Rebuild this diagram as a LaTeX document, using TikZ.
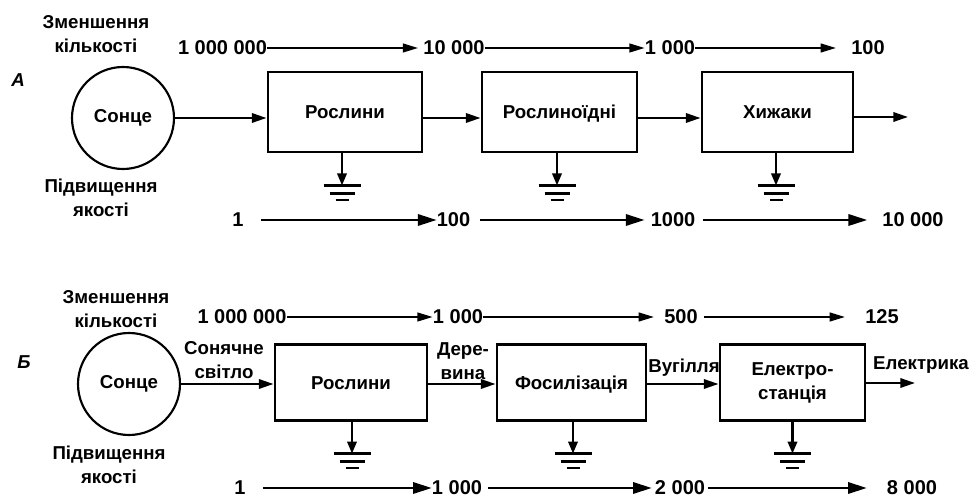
\documentclass[tikz,border=0pt]{standalone}
\usepackage{fontspec}
\setmainfont{Liberation Sans}
\usetikzlibrary{arrows.meta,calc}
\begin{document}
\begin{tikzpicture}[x=0.75pt,y=-0.75pt,
  every node/.style={font=\fontsize{14}{18}\selectfont\bfseries, inner sep=0pt, align=center},
  lbl/.style={font=\fontsize{14}{18}\selectfont\bfseries\itshape},
  num/.style={font=\fontsize{15}{18}\selectfont\bfseries},
  sunnode/.style={draw, circle, line width=1.6pt, minimum size=76.5pt},
  box/.style={draw, line width=2.2pt},
  one/.style={text height=10pt, text depth=0pt},
  flow/.style={line width=1.7pt, -{Triangle[length=11pt,width=7pt]}},
  toparr/.style={line width=1.6pt, -{Triangle[length=11.5pt,width=6.5pt]}},
  botarr/.style={line width=1.6pt, -{Triangle[length=14pt,width=8.5pt]}},
  gstem/.style={line width=1.8pt, -{Triangle[length=9pt,width=7pt]}},
  gline/.style={line width=2pt},
  earth/.pic={
    \draw[gline] (-18.5,0) -- (18.5,0);
    \draw[gline] (-12.5,8) -- (12.5,8);
    \draw[gline] (-6.5,14.5) -- (6.5,14.5);
  }
]
\useasboundingbox (0,0) rectangle (975,498);

% ---------------- Part A ----------------
\node (zmA) at (96,34.5) {Зменшення\\кількості};
\node (pidA) at (101,197.5) {Підвищення\\якості};
\node[lbl] (labA) at (18,80) {А};
\node[sunnode] (sunA) at (123,118) {Сонце};

\node[box, one, minimum width=115.5pt, minimum height=60pt] (plA) at (345,112) {Рослини};
\node[box, one, minimum width=116.25pt, minimum height=60pt] (heA) at (559.5,112) {Рослиноїдні};
\node[box, one, minimum width=113.25pt, minimum height=60pt] (prA) at (777.5,112) {Хижаки};
\coordinate (outA) at (908,117);

\draw[flow] (sunA.east) -- (sunA.east -| plA.west);
\draw[flow] (plA.east |- sunA.east) -- (heA.west |- sunA.east);
\draw[flow] (heA.east |- sunA.east) -- (prA.west |- sunA.east);
\draw[flow] (prA.east |- outA) -- (outA);

\coordinate (gA1) at ($(plA.south)+(-3,32)$);
\coordinate (gA2) at ($(heA.south)+(-2.5,32)$);
\coordinate (gA3) at ($(prA.south)+(-1.5,32)$);
\draw[gstem] (plA.south -| gA1) -- (gA1);
\draw[gstem] (heA.south -| gA2) -- (gA2);
\draw[gstem] (prA.south -| gA3) -- (gA3);
\pic at (gA1) {earth};
\pic at (gA2) {earth};
\pic at (gA3) {earth};

\node[num] (n1) at (222.5,48) {1 000 000};
\node[num] (n2) at (454,48) {10 000};
\node[num] (n3) at (670,48) {1 000};
\node[num] (n4) at (868,48) {100};
\draw[toparr, shorten >=3.75pt] (n1.east) -- (n2.west);
\draw[toparr] (n2.east) -- (n3.west);
\draw[toparr, shorten >=11.25pt] (n3.east) -- (n4.west);

\node[num] (m1) at (238,220) {1};
\node[num] (m2) at (453.5,220) {100};
\node[num] (m3) at (673,220) {1000};
\node[num] (m4) at (913,220) {10 000};
\draw[botarr, shorten <=12.75pt] (m1.east) -- (m2.west);
\draw[botarr, shorten <=7.5pt, shorten >=4.5pt] (m2.east) -- (m3.west);
\draw[botarr, shorten <=5.25pt, shorten >=11.25pt] (m3.east) -- (m4.west);

% ---------------- Part B ----------------
\node (zmB) at (116,309) {Зменшення\\кількості};
\node (pidB) at (109,464.5) {Підвищення\\якості};
\node[lbl] (labB) at (24,362) {Б};
\node[sunnode] (sunB) at (129,384) {Сонце};

\node[box, one, minimum width=114pt, minimum height=56.5pt] (plB) at (351,382.5) {Рослини};
\node[box, one, minimum width=111.75pt, minimum height=56.5pt] (foB) at (571.5,382.5) {Фосилізація};
\node[box, minimum width=108.75pt, minimum height=56.5pt] (elB) at (792.5,382.5) {Електро-\\станція};
\coordinate (outB) at (915,383);

\node (lsun) at (224,360.5) {Сонячне\\світло};
\node (lwood) at (463,361.5) {Дере-\\вина};
\node (lcoal) at (684,368) {Вугілля};
\node (lel) at (921,365) {Електрика};

\draw[flow] (sunB.east) -- (sunB.east -| plB.west);
\draw[flow] (plB.east |- sunB.east) -- (foB.west |- sunB.east);
\draw[flow] (foB.east |- sunB.east) -- (elB.west |- sunB.east);
\draw[flow] (elB.east |- outB) -- (outB);

\coordinate (gB1) at ($(plB.south)+(1,32)$);
\coordinate (gB2) at ($(foB.south)+(1.5,32)$);
\coordinate (gB3) at ($(elB.south)+(0,32)$);
\draw[gstem] (plB.south -| gB1) -- (gB1);
\draw[gstem] (foB.south -| gB2) -- (gB2);
\draw[gstem] (elB.south -| gB3) -- (gB3);
\pic at (gB1) {earth};
\pic at (gB2) {earth};
\pic at (gB3) {earth};

\node[num] (p1) at (242,317) {1 000 000};
\node[num] (p2) at (458,317) {1 000};
\node[num] (p3) at (681,317) {500};
\node[num] (p4) at (882,317) {125};
\draw[toparr] (p1.east) -- (p2.west);
\draw[toparr, shorten >=7.5pt] (p2.east) -- (p3.west);
\draw[toparr, shorten <=4.5pt, shorten >=15pt] (p3.east) -- (p4.west);

\node[num] (q1) at (240,488) {1};
\node[num] (q2) at (457,488) {1 000};
\node[num] (q3) at (680,488) {2 000};
\node[num] (q4) at (912,488) {8 000};
\draw[botarr, shorten <=12.75pt] (q1.east) -- (q2.west);
\draw[botarr, shorten <=4.5pt, shorten >=2.25pt] (q2.east) -- (q3.west);
\draw[botarr, shorten <=2.25pt, shorten >=15pt] (q3.east) -- (q4.west);
\end{tikzpicture}
\end{document}
